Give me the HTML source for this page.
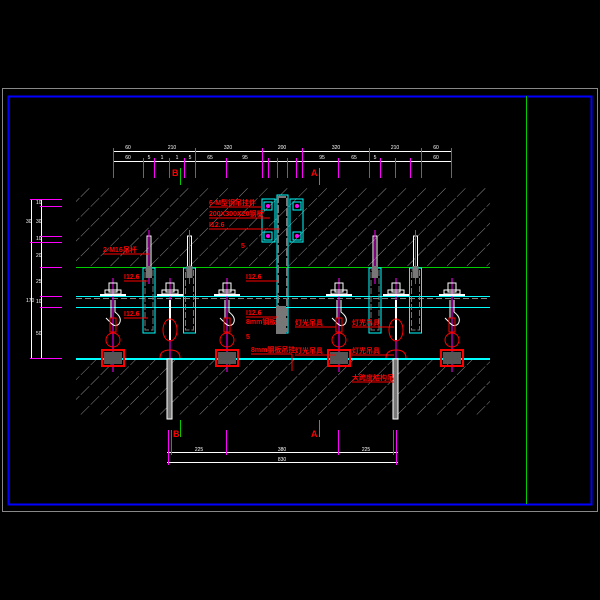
<!DOCTYPE html>
<html><head><meta charset="utf-8"><style>html,body{margin:0;padding:0;background:#000;}svg{display:block}</style></head><body>
<svg width="600" height="600" viewBox="0 0 600 600" xmlns="http://www.w3.org/2000/svg" font-family="Liberation Sans, Noto Sans CJK SC, sans-serif">
<defs>
<pattern id="h" width="14" height="14" patternUnits="userSpaceOnUse" patternTransform="rotate(45)">
<line x1="0" y1="0" x2="0" y2="14" stroke="#8a8a8a" stroke-width="1" stroke-dasharray="12 2"/>
</pattern>
<g id="ha">
<line x1="0" y1="278" x2="0" y2="372" stroke="#f0f" stroke-width="1"/>
<rect x="-4" y="283" width="8" height="9" fill="none" stroke="#fff"/>
<rect x="-8" y="290" width="16" height="4" fill="none" stroke="#fff"/>
<rect x="-13" y="294" width="26" height="2" fill="#fff"/>
<path d="M-2 300 V318 M2 300 V312 q8 6 4 12 q-4 4 -9 -2 l-4 -4" fill="none" stroke="#fff"/>
<rect x="-3" y="318" width="6" height="14" fill="none" stroke="#f00"/>
<circle cx="0" cy="340" r="7" fill="none" stroke="#f00"/>
<rect x="-11" y="350" width="22" height="16" fill="none" stroke="#f00" stroke-width="2"/>
<rect x="-9" y="352" width="18" height="12" fill="#555"/>
</g>
<g id="hb">
<line x1="0" y1="278" x2="0" y2="372" stroke="#f0f" stroke-width="1"/>
<rect x="-4" y="283" width="8" height="9" fill="none" stroke="#fff"/>
<rect x="-8" y="290" width="16" height="4" fill="none" stroke="#fff"/>
<rect x="-13" y="294" width="26" height="2" fill="#fff"/>
<line x1="0" y1="300" x2="0" y2="340" stroke="#fff" stroke-width="2"/>
<ellipse cx="0" cy="330" rx="7" ry="11" fill="none" stroke="#f00"/>
<path d="M-10 358 q0 -8 10 -8 q10 0 10 8" fill="none" stroke="#f00"/>
</g>
<g id="rod">
<rect x="-2" y="236" width="4" height="36" fill="none" stroke="#fff"/>
<line x1="0" y1="230" x2="0" y2="284" stroke="#f0f"/>
<rect x="-6" y="268" width="12" height="65" fill="none" stroke="#0ff"/>
<rect x="-4" y="270" width="8" height="60" fill="none" stroke="#777" stroke-dasharray="6 2"/>
<rect x="-3" y="266" width="6" height="12" fill="#777"/>
</g>
</defs>
<rect x="2.5" y="88.5" width="595" height="423" fill="none" stroke="#888"/>
<rect x="8.5" y="96.5" width="583" height="408" fill="none" stroke="#00f" stroke-width="2"/>
<line x1="526.5" y1="96" x2="526.5" y2="504" stroke="#0c0"/>
<rect x="76" y="187" width="414" height="80" fill="url(#h)"/>
<rect x="76" y="359" width="414" height="56" fill="url(#h)"/>
<g stroke="#fff"><line x1="113" y1="151.5" x2="452" y2="151.5"/><line x1="113" y1="161.5" x2="452" y2="161.5"/></g>
<g stroke="#f0f">
<line x1="113.5" y1="148" x2="113.5" y2="178"/><line x1="143.5" y1="158" x2="143.5" y2="178"/><line x1="154.5" y1="158" x2="154.5" y2="178"/><line x1="169.5" y1="158" x2="169.5" y2="178"/><line x1="184.5" y1="158" x2="184.5" y2="178"/><line x1="195.5" y1="148" x2="195.5" y2="178"/><line x1="226.5" y1="158" x2="226.5" y2="178"/><line x1="262.5" y1="148" x2="262.5" y2="178"/><line x1="268.5" y1="158" x2="268.5" y2="178"/><line x1="277.5" y1="158" x2="277.5" y2="178"/><line x1="287.5" y1="158" x2="287.5" y2="178"/><line x1="296.5" y1="158" x2="296.5" y2="178"/><line x1="302.5" y1="148" x2="302.5" y2="178"/><line x1="338.5" y1="158" x2="338.5" y2="178"/><line x1="369.5" y1="148" x2="369.5" y2="178"/><line x1="380.5" y1="158" x2="380.5" y2="178"/><line x1="395.5" y1="158" x2="395.5" y2="178"/><line x1="410.5" y1="158" x2="410.5" y2="178"/><line x1="421.5" y1="148" x2="421.5" y2="178"/><line x1="451.5" y1="148" x2="451.5" y2="178"/>
</g>
<g fill="#fff" font-size="5" text-anchor="middle">
<text x="128" y="149">60</text><text x="172" y="149">210</text><text x="228" y="149">320</text><text x="282" y="149">200</text><text x="336" y="149">320</text><text x="395" y="149">210</text><text x="436" y="149">60</text>
<text x="128" y="159">60</text><text x="149" y="159">5</text><text x="162" y="159">1</text><text x="177" y="159">1</text><text x="190" y="159">5</text><text x="210" y="159">65</text><text x="245" y="159">95</text><text x="322" y="159">95</text><text x="354" y="159">65</text><text x="375" y="159">5</text><text x="436" y="159">60</text>
</g>
<text x="172" y="176" fill="#f00" font-size="9" font-weight="bold">B</text>
<line x1="180.5" y1="168" x2="180.5" y2="185" stroke="#0c0"/>
<text x="311" y="176" fill="#f00" font-size="9" font-weight="bold">A</text>
<line x1="319.5" y1="168" x2="319.5" y2="185" stroke="#0c0"/>
<g stroke="#fff"><line x1="31.5" y1="199" x2="31.5" y2="359"/><line x1="41.5" y1="199" x2="41.5" y2="359"/></g>
<g stroke="#f0f"><line x1="30" y1="199.5" x2="62" y2="199.5"/><line x1="40" y1="206.5" x2="62" y2="206.5"/><line x1="40" y1="236.5" x2="62" y2="236.5"/><line x1="30" y1="242.5" x2="62" y2="242.5"/><line x1="40" y1="267.5" x2="62" y2="267.5"/><line x1="40" y1="296.5" x2="62" y2="296.5"/><line x1="40" y1="307.5" x2="62" y2="307.5"/><line x1="30" y1="358.5" x2="62" y2="358.5"/></g>
<g fill="#fff" font-size="5"><text x="26" y="223">30</text><text x="26" y="302">170</text><text x="36" y="204">10</text><text x="36" y="223">30</text><text x="36" y="240">10</text><text x="36" y="257">20</text><text x="36" y="283">25</text><text x="36" y="303">10</text><text x="36" y="335">50</text></g>
<line x1="76" y1="267.5" x2="490" y2="267.5" stroke="#0c0"/>
<line x1="76" y1="296.5" x2="490" y2="296.5" stroke="#0ff"/>
<line x1="76" y1="298.5" x2="490" y2="298.5" stroke="#888" stroke-dasharray="6 3"/>
<line x1="76" y1="307.5" x2="490" y2="307.5" stroke="#0ff"/>
<line x1="76" y1="359" x2="490" y2="359" stroke="#0ff" stroke-width="2"/>
<use href="#rod" x="149"/><use href="#rod" x="189.5"/><use href="#rod" x="375"/><use href="#rod" x="415.5"/>
<rect x="277" y="195" width="11" height="138" fill="none" stroke="#0ff"/>
<rect x="278" y="197" width="9" height="134" fill="none" stroke="#777" stroke-width="2" stroke-dasharray="8 2"/>
<rect x="262" y="199" width="13" height="43" fill="none" stroke="#0ff"/>
<rect x="290" y="199" width="13" height="43" fill="none" stroke="#0ff"/>
<g fill="none" stroke="#0ff"><rect x="264" y="202" width="8" height="8"/><rect x="264" y="232" width="8" height="8"/><rect x="293" y="202" width="8" height="8"/><rect x="293" y="232" width="8" height="8"/></g>
<g fill="#f0f"><circle cx="268" cy="206" r="2"/><circle cx="268" cy="236" r="2"/><circle cx="297" cy="206" r="2"/><circle cx="297" cy="236" r="2"/></g>
<rect x="276" y="306" width="10" height="28" fill="#777"/>
<use href="#ha" x="113"/><use href="#hb" x="170"/><use href="#ha" x="227"/><use href="#ha" x="339"/><use href="#hb" x="396"/><use href="#ha" x="452"/>
<rect x="167" y="359" width="5" height="60" fill="#777" stroke="#fff"/>
<rect x="393" y="359" width="5" height="60" fill="#777" stroke="#fff"/>
<g fill="#f00" font-size="7" font-weight="bold">
<text x="209" y="205">6-M型钢吊挂件</text><line x1="209" y1="207" x2="262" y2="207" stroke="#f00"/>
<text x="209" y="216">200X300X20钢板</text><line x1="209" y1="218" x2="270" y2="218" stroke="#f00"/>
<text x="209" y="227">I12.6</text><line x1="209" y1="229" x2="280" y2="229" stroke="#f00"/>
<text x="241" y="248">5</text>
<text x="103" y="252">2-M16吊杆</text><line x1="103" y1="254" x2="150" y2="254" stroke="#f00"/>
<text x="124" y="279">I12.6</text><line x1="124" y1="281" x2="148" y2="281" stroke="#f00"/>
<text x="124" y="316">I12.6</text><line x1="124" y1="318" x2="148" y2="318" stroke="#f00"/>
<text x="246" y="279">I12.6</text><line x1="246" y1="281" x2="277" y2="281" stroke="#f00"/>
<text x="246" y="315">I12.6</text><line x1="246" y1="317" x2="277" y2="317" stroke="#f00"/>
<text x="246" y="324">8mm钢板</text>
<text x="246" y="339">5</text>
<text x="251" y="352">8mm钢板吊挂</text><line x1="251" y1="354" x2="292" y2="354" stroke="#f00"/><line x1="292" y1="354" x2="292" y2="371" stroke="#f00"/>
<text x="295" y="325">灯光吊具</text><line x1="295" y1="327" x2="336" y2="327" stroke="#f00"/>
<text x="352" y="325">灯光吊具</text><line x1="352" y1="327" x2="394" y2="327" stroke="#f00"/>
<text x="295" y="353">灯光吊具</text><line x1="295" y1="355" x2="336" y2="355" stroke="#f00"/>
<text x="352" y="353">灯光吊具</text><line x1="352" y1="355" x2="394" y2="355" stroke="#f00"/>
<text x="352" y="380">大跨度结构吊</text><line x1="352" y1="382" x2="394" y2="382" stroke="#f00"/>
</g>
<text x="173" y="437" fill="#f00" font-size="9" font-weight="bold">B</text>
<line x1="180.5" y1="420" x2="180.5" y2="437" stroke="#0c0"/>
<text x="311" y="437" fill="#f00" font-size="9" font-weight="bold">A</text>
<line x1="319.5" y1="420" x2="319.5" y2="437" stroke="#0c0"/>
<g stroke="#fff"><line x1="167" y1="452.5" x2="398" y2="452.5"/><line x1="167" y1="462.5" x2="398" y2="462.5"/></g>
<g stroke="#f0f"><line x1="168.5" y1="430" x2="168.5" y2="465"/><line x1="171.5" y1="430" x2="171.5" y2="455"/><line x1="226.5" y1="430" x2="226.5" y2="455"/><line x1="338.5" y1="430" x2="338.5" y2="455"/><line x1="393.5" y1="430" x2="393.5" y2="455"/><line x1="396.5" y1="430" x2="396.5" y2="465"/></g>
<g fill="#fff" font-size="5" text-anchor="middle"><text x="199" y="451">225</text><text x="282" y="451">380</text><text x="366" y="451">225</text><text x="282" y="461">830</text></g>
</svg>
</body></html>
